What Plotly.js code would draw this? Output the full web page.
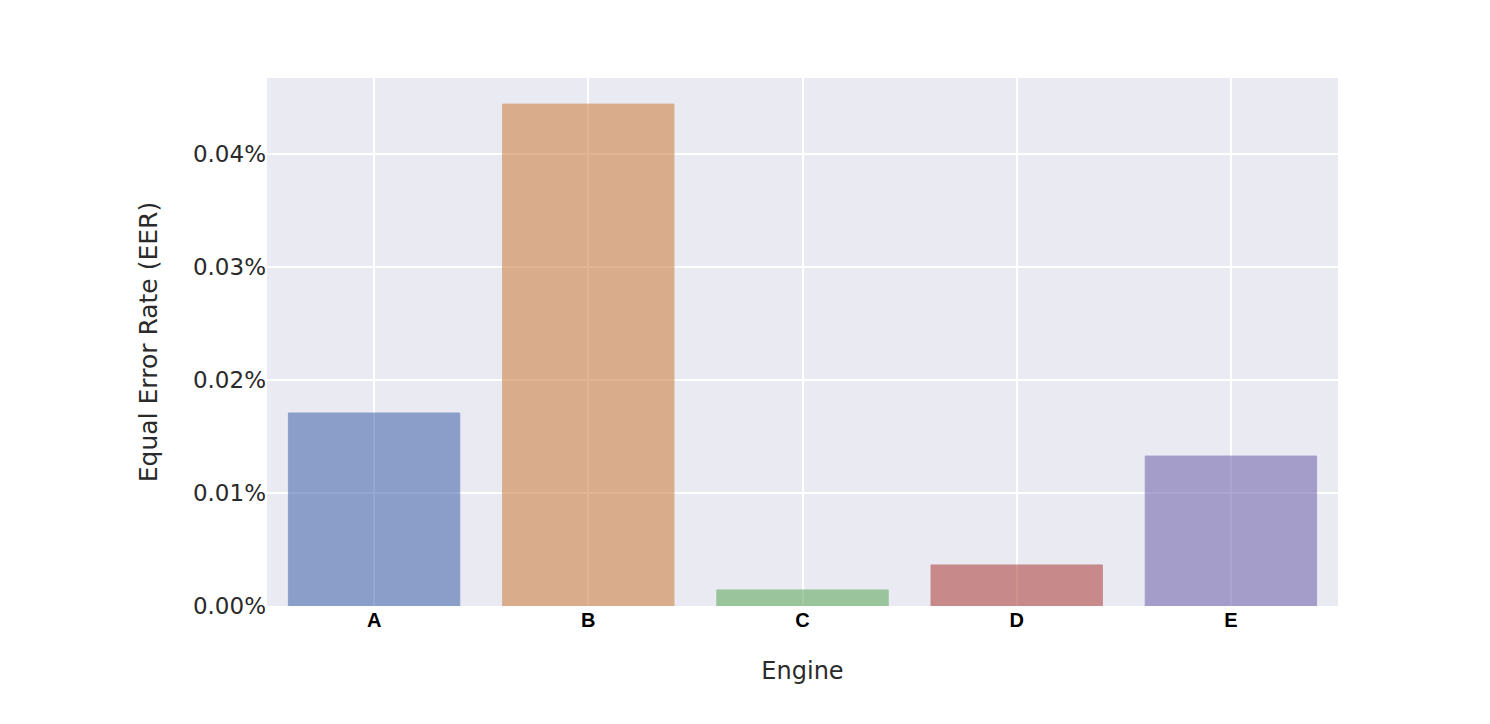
<!DOCTYPE html>
<html>
<head>
<meta charset="utf-8">
<script src="https://cdn.plot.ly/plotly-3.0.1.min.js"></script>
<style>html,body{margin:0;padding:0;background:#fff;}#chart{width:1490px;height:724px;}</style>
</head>
<body>
<div id="chart"></div>
<script>
const engines = ["A", "B", "C", "D", "E"];
const eerValues = [0.0001708, 0.0004442, 0.0000142, 0.0000363, 0.0001327];
const barColors = ["#4D6DB1", "#CE844A", "#66AB63", "#B04A45", "#776BB1"];

const trace = {
  type: "bar",
  x: engines,
  y: eerValues,
  marker: { color: barColors, opacity: 0.6, line: { color: barColors, width: 1 } },
  hoverinfo: "x+y"
};

const layout = {
  width: 1490,
  height: 724,
  margin: { l: 267, r: 152, t: 78, b: 118 },
  paper_bgcolor: "#ffffff",
  plot_bgcolor: "#EAEAF2",
  showlegend: false,
  bargap: 0.2,
  font: { family: "DejaVu Sans, Verdana, sans-serif", color: "#2a2a2a" },
  xaxis: {
    title: { text: "Engine", font: { size: 24, color: "#2a2a2a" }, standoff: 32 },
    tickfont: { family: "Liberation Sans, Arial, sans-serif", size: 20, color: "#000000", weight: "bold" },
    showgrid: true,
    gridcolor: "#ffffff",
    gridwidth: 1.5,
    zeroline: false,
    ticks: ""
  },
  yaxis: {
    title: { text: "Equal Error Rate (EER)", font: { size: 25, color: "#2a2a2a" }, standoff: 28 },
    tickfont: { size: 23, color: "#2a2a2a" },
    tickformat: ".2%",
    range: [0, 0.0004673],
    dtick: 0.0001,
    showgrid: true,
    gridcolor: "#ffffff",
    gridwidth: 1.5,
    zeroline: false,
    ticks: ""
  }
};

Plotly.newPlot("chart", [trace], layout, { displayModeBar: false, responsive: false });
</script>
</body>
</html>
